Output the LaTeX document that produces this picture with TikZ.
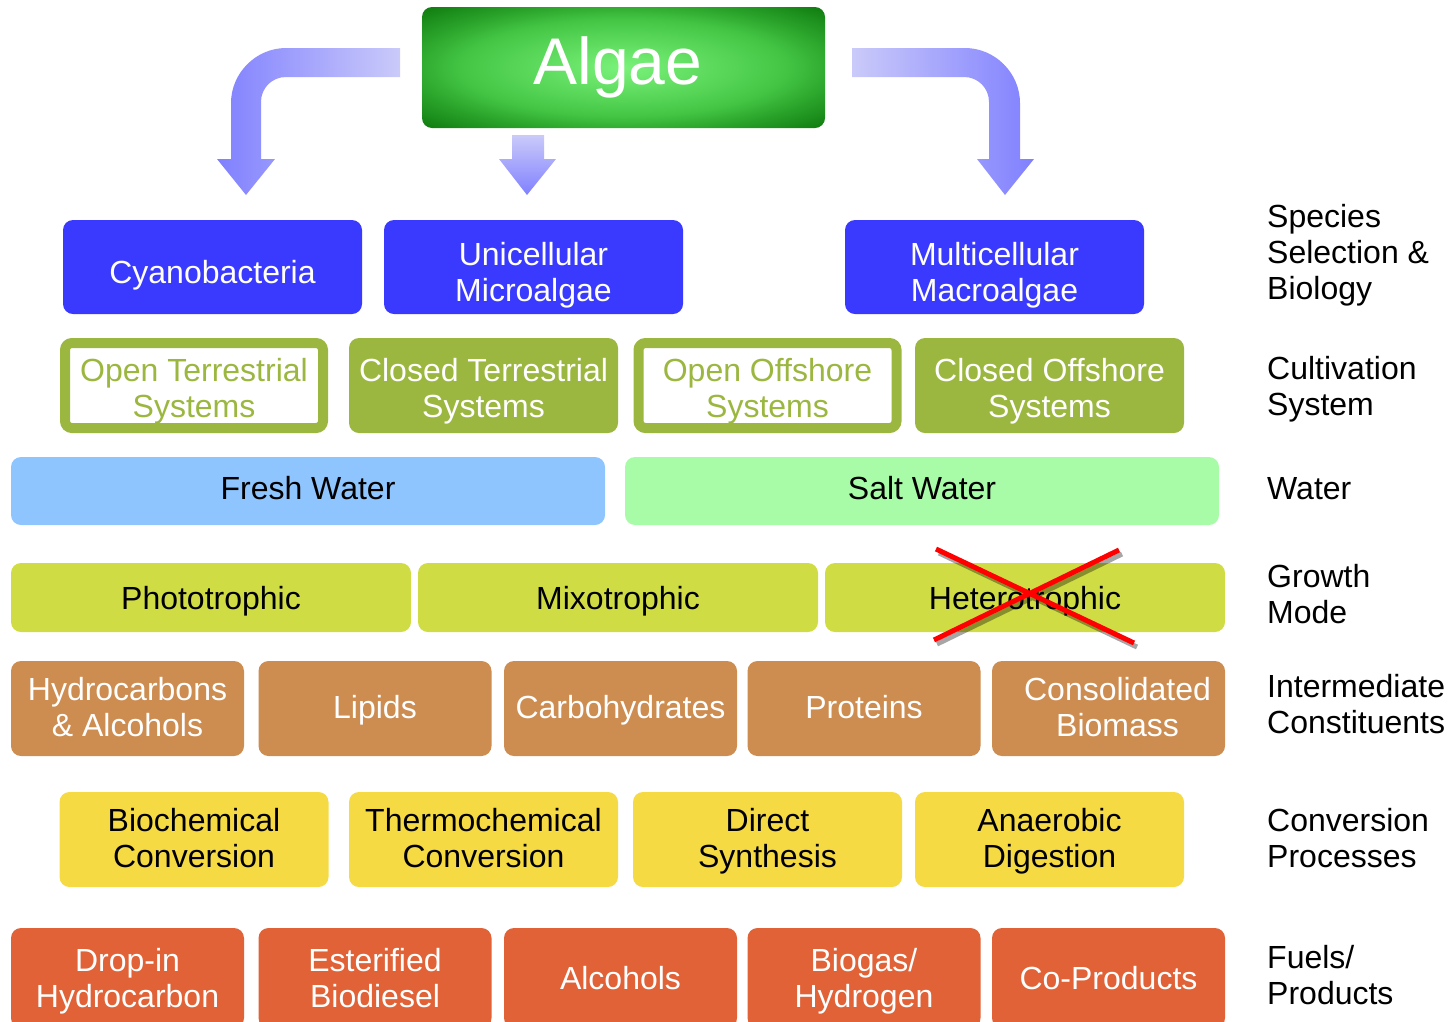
\documentclass[tikz,border=0pt]{standalone}
\usepackage{fontspec}
\setmainfont{Liberation Sans}
\definecolor{algaeDark}{HTML}{0C780C}
\definecolor{algaeMid}{HTML}{44C644}
\definecolor{algaeEdge}{HTML}{2DA72D}
\definecolor{algaeLight}{HTML}{7AF27A}
\definecolor{arrowDark}{HTML}{8080FF}
\definecolor{arrowLight}{HTML}{CACAFA}
\definecolor{speciesBlue}{HTML}{3A3AFF}
\definecolor{cultGreen}{HTML}{9BB740}
\definecolor{freshBlue}{HTML}{8EC5FE}
\definecolor{saltGreen}{HTML}{A8FCA8}
\definecolor{growthYellow}{HTML}{D0DC44}
\definecolor{interBrown}{HTML}{CD8C50}
\definecolor{convYellow}{HTML}{F5DA44}
\definecolor{fuelOrange}{HTML}{E06236}
\pgfdeclareradialshading{algaeglow}{\pgfpoint{0bp}{0bp}}{color(0bp)=(algaeLight); color(20bp)=(algaeMid);
  color(26bp)=(algaeEdge); color(36bp)=(algaeDark); color(50bp)=(algaeDark)}
\begin{document}
\begin{tikzpicture}[x=1pt, y=-1pt,
    box/.style={rounded corners=10pt, inner sep=0pt, align=center, text depth=0pt, font=\fontsize{32}{36}\selectfont},
    species/.style={box, fill=speciesBlue, text=white, minimum width=299pt, minimum height=94pt, text height=69pt},
    cultfull/.style={box, fill=cultGreen, text=white, minimum width=269pt, minimum height=95pt, text height=64pt},
    cultopen/.style={box, rounded corners=7pt, draw=cultGreen, line width=10pt, fill=white, text=cultGreen, minimum width=258pt, minimum height=85pt, text height=64pt},
    water/.style={box, text=black, minimum width=594pt, minimum height=68pt, text depth=6pt},
    growth/.style={box, fill=growthYellow, text=black, minimum width=400pt, minimum height=69pt},
    inter/.style={box, fill=interBrown, text=white, minimum width=233pt, minimum height=95pt, text depth=4pt},
    conv/.style={box, fill=convYellow, text=black, minimum width=269pt, minimum height=95pt, text depth=3pt},
    fuel/.style={box, fill=fuelOrange, text=white, minimum width=233pt, minimum height=100pt},
    rowlabel/.style={anchor=west, inner sep=0pt, align=left, font=\fontsize{32}{36}\selectfont}]

    \useasboundingbox (0,0) rectangle (1451,1021);

    % 顶部
    \node[rounded corners=10pt, shading=algaeglow, minimum width=403pt, minimum height=121pt,
          text=white, font=\fontsize{66}{70}\selectfont] (algae) at (623.5,67.5) {Algae\hspace*{11pt}};

    % 三个粗箭头
    \shade[left color=arrowDark, right color=arrowLight]
      (400,48) -- (286,48) .. controls (256,48) and (231,73) .. (231,103) -- (231,159) -- (217,159)
      -- (246,195) -- (275,159) -- (261,159) -- (261,102) .. controls (261,88) and (272,77) .. (286,77)
      -- (400,77) -- cycle;
    \shade[top color=arrowLight, bottom color=arrowDark]
      (512,135) -- (544,135) -- (544,159) -- (556,159) -- (527,195) -- (499,159) -- (512,159) -- cycle;
    \shade[left color=arrowLight, right color=arrowDark]
      (852,48) -- (965,48) .. controls (995,48) and (1020,73) .. (1020,103) -- (1020,159) -- (1034,159)
      -- (1005,195) -- (977,159) -- (989,159) -- (989,102) .. controls (989,88) and (978,77) .. (964,77)
      -- (852,77) -- cycle;

    % 物种
    \node[species, text height=33pt] (cyano) at (212.5,267) {Cyanobacteria};
    \node[species] (micro) at (533.5,267) {Unicellular\\Microalgae};
    \node[species] (macro) at (994.5,267) {Multicellular\\Macroalgae};

    % 培养系统
    \node[cultopen] (openterr) at (194,385.5) {Open Terrestrial\\Systems};
    \node[cultfull] (closedterr) at (483.5,385.5) {Closed Terrestrial\\Systems};
    \node[cultopen] (openoff) at (767.5,385.5) {Open Offshore\\Systems};
    \node[cultfull] (closedoff) at (1049.5,385.5) {Closed Offshore\\Systems};

    % 水
    \node[water, fill=freshBlue] (fresh) at (308,491) {Fresh Water};
    \node[water, fill=saltGreen] (salt) at (922,491) {Salt Water};

    % 生长方式
    \node[growth] (photo) at (211,597.5) {Phototrophic};
    \node[growth] (mixo) at (618,597.5) {Mixotrophic};
    \node[growth] (hetero) at (1025,597.5) {Heterotrophic};

    % 划掉（带阴影）
    \draw[line width=5pt, black, opacity=0.35] (939,553) -- (1137,647) (937,644) -- (1122,554);
    \draw[line width=5pt, red] (936,549) -- (1134,643) (934,640) -- (1119,550);

    % 中间成分
    \foreach \n/\x/\t in {hydro/127.5/{Hydrocarbons\\\& Alcohols}, lipid/375/Lipids, carbo/620.5/Carbohydrates,
                          prot/864/Proteins, biom/1108.5/{\hspace*{18pt}Consolidated\\\hspace*{18pt}Biomass}}
      \node[inter] (\n) at (\x,708.5) {\t};

    % 转化过程
    \node[conv] (biochem) at (194,839.5) {Biochemical\\Conversion};
    \node[conv] (thermo) at (483.5,839.5) {Thermochemical\\Conversion};
    \node[conv] (direct) at (767.5,839.5) {Direct\\Synthesis};
    \node[conv] (anaer) at (1049.5,839.5) {Anaerobic\\Digestion};

    % 燃料与产品
    \foreach \n/\x/\t in {dropin/127.5/{Drop-in\\Hydrocarbon}, ester/375/{Esterified\\Biodiesel}, alco/620.5/Alcohols,
                          biogas/864/{Biogas/\\Hydrogen}, coprod/1108.5/Co-Products}
      \node[fuel] (\n) at (\x,978) {\t};

    % 右侧说明
    \node[rowlabel] (lspecies) at (1267,255) {Species\\Selection \&\\Biology};
    \node[rowlabel] (lcult) at (1267,389) {Cultivation\\System};
    \node[rowlabel] (lwater) at (1267,489) {Water};
    \node[rowlabel] (lgrowth) at (1267,594) {Growth\\Mode};
    \node[rowlabel] (linter) at (1267,704.5) {Intermediate\\Constituents};
    \node[rowlabel] (lconv) at (1267,838) {Conversion\\Processes};
    \node[rowlabel] (lfuel) at (1267,975) {Fuels/\\Products};

\end{tikzpicture}
\end{document}
